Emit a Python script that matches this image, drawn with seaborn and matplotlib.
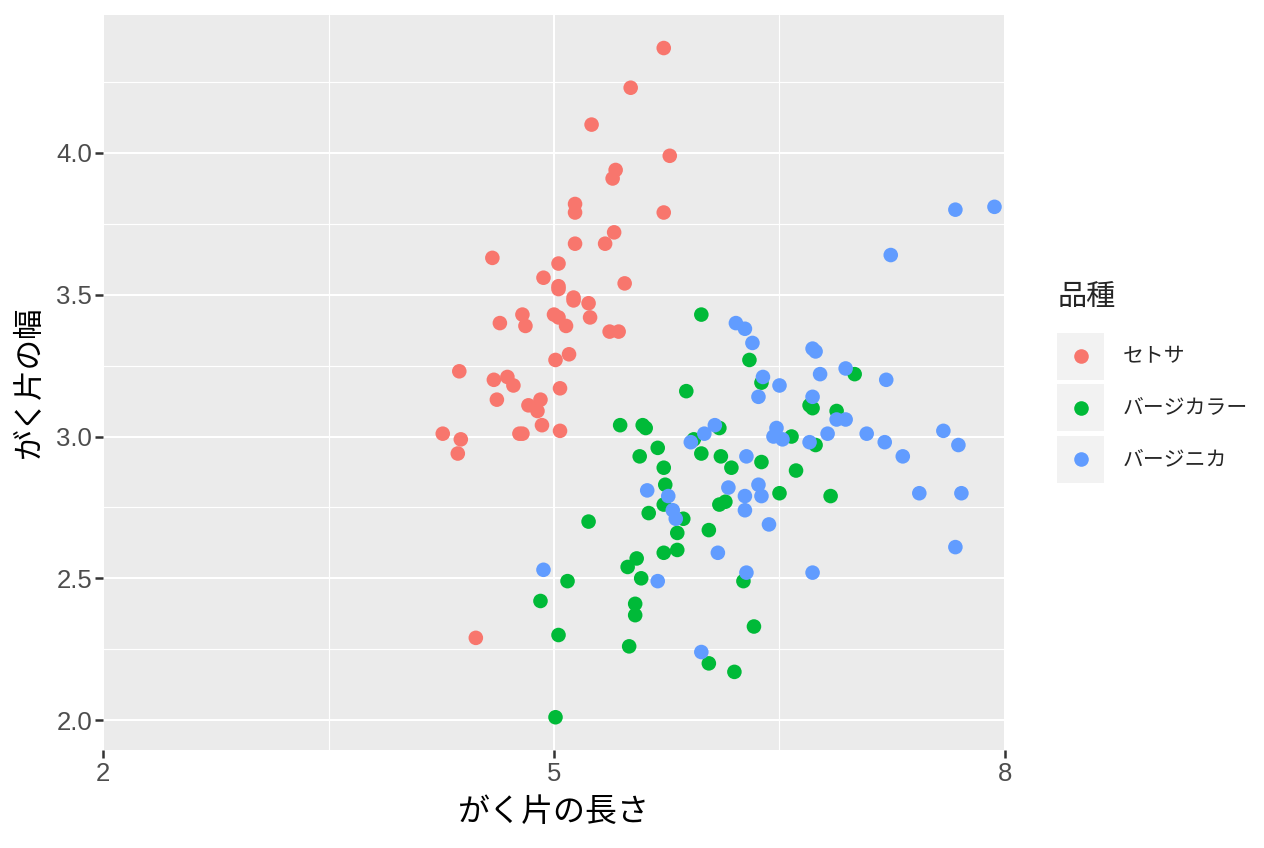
import matplotlib
matplotlib.use("Agg")
import matplotlib.pyplot as plt
import pandas as pd
import seaborn as sns
from matplotlib.lines import Line2D
from matplotlib.patches import Rectangle

# がく片の長さ / 幅 (per species)
setosa_len = [5.73, 5.51, 5.25, 5.77, 5.41, 5.39, 5.14, 5.14, 5.73, 5.40,
              5.14, 5.34, 4.59, 5.03, 4.93, 5.47, 5.03, 5.03, 5.13, 5.13,
              5.23, 4.79, 5.00, 5.03, 4.64, 4.81, 5.08, 5.24, 5.37, 5.43,
              5.10, 5.01, 4.37, 4.69, 4.60, 4.73, 5.04, 4.62, 4.91, 4.83,
              4.89, 4.92, 5.04, 4.77, 4.79, 4.26, 4.38, 4.36, 4.48]
setosa_wid = [4.37, 4.23, 4.10, 3.99, 3.94, 3.91, 3.82, 3.79, 3.79, 3.72,
              3.68, 3.68, 3.63, 3.61, 3.56, 3.54, 3.53, 3.52, 3.49, 3.48,
              3.47, 3.43, 3.43, 3.42, 3.40, 3.39, 3.39, 3.42, 3.37, 3.37,
              3.29, 3.27, 3.23, 3.21, 3.20, 3.18, 3.17, 3.13, 3.13, 3.11,
              3.09, 3.04, 3.02, 3.01, 3.01, 3.01, 2.99, 2.94, 2.29]

versicolor_len = [5.98, 6.30, 6.38, 5.88, 6.70, 6.72, 6.88, 7.00, 5.44, 5.59,
                  5.61, 6.10, 5.93, 6.58, 6.74, 5.69, 5.57, 5.98, 6.11, 6.18,
                  6.38, 5.73, 6.61, 5.74, 6.50, 6.84, 5.73, 6.10, 6.14, 5.63,
                  5.86, 5.23, 5.82, 6.03, 5.55, 5.49, 5.73, 5.82, 5.58, 5.09,
                  6.26, 4.91, 5.54, 5.54, 6.33, 5.03, 5.50, 6.03, 6.20, 5.01]
versicolor_wid = [3.43, 3.27, 3.19, 3.16, 3.11, 3.10, 3.09, 3.22, 3.04, 3.04,
                  3.03, 3.03, 2.99, 3.00, 2.97, 2.96, 2.93, 2.94, 2.93, 2.89,
                  2.91, 2.89, 2.88, 2.83, 2.80, 2.79, 2.76, 2.76, 2.77, 2.73,
                  2.71, 2.70, 2.66, 2.67, 2.57, 2.54, 2.59, 2.60, 2.50, 2.49,
                  2.49, 2.42, 2.41, 2.37, 2.33, 2.30, 2.26, 2.20, 2.17, 2.01]

virginica_len = [7.67, 7.93, 7.24, 6.72, 6.74, 6.77, 6.94, 7.21, 6.50, 6.72,
                 6.88, 6.94, 6.82, 7.08, 7.59, 7.20, 7.69, 7.32, 6.70, 6.48,
                 6.46, 6.52, 7.43, 7.71, 6.43, 7.67, 6.72, 6.21, 6.27, 6.32,
                 6.39, 6.36, 6.07, 6.00, 5.91, 6.28, 6.16, 6.36, 6.38, 6.27,
                 5.62, 5.76, 5.79, 5.81, 6.27, 6.09, 6.28, 4.93, 5.69, 5.98]
virginica_wid = [3.80, 3.81, 3.64, 3.31, 3.30, 3.22, 3.24, 3.20, 3.18, 3.14,
                 3.06, 3.06, 3.01, 3.01, 3.02, 2.98, 2.97, 2.93, 2.98, 3.03,
                 3.00, 2.99, 2.80, 2.80, 2.69, 2.61, 2.52, 3.40, 3.38, 3.33,
                 3.21, 3.14, 3.04, 3.01, 2.98, 2.93, 2.82, 2.83, 2.79, 2.79,
                 2.81, 2.79, 2.74, 2.71, 2.74, 2.59, 2.52, 2.53, 2.49, 2.24]

species = ["セトサ", "バージカラー", "バージニカ"]
colors = ["#F8766D", "#00BA38", "#619CFF"]

df = pd.DataFrame({
    "length": setosa_len + versicolor_len + virginica_len,
    "width": setosa_wid + versicolor_wid + virginica_wid,
    "species": [species[0]] * len(setosa_len)
               + [species[1]] * len(versicolor_len)
               + [species[2]] * len(virginica_len),
})

sns.set_theme(style="darkgrid")
plt.rcParams["font.family"] = ["Noto Sans CJK JP", "DejaVu Sans"]

fig = plt.figure(figsize=(12.64, 8.48), dpi=100)
fig.patch.set_facecolor("white")
ax = fig.add_axes([103 / 1264, 1 - 750 / 848, 902 / 1264, 735 / 848])
ax.set_facecolor("#EBEBEB")

sns.scatterplot(data=df, x="length", y="width", hue="species", hue_order=species,
                palette=colors, s=110, linewidth=0, alpha=1, ax=ax, legend=False,
                zorder=3)

ax.set_xlim(2, 8)
ax.set_ylim(1.8945, 4.4865)
ax.set_xticks([2, 5, 8])
ax.set_xticks([3.5, 6.5], minor=True)
ax.set_yticks([2.0, 2.5, 3.0, 3.5, 4.0])
ax.set_yticks([2.25, 2.75, 3.25, 3.75, 4.25], minor=True)
ax.set_yticklabels(["2.0", "2.5", "3.0", "3.5", "4.0"])
ax.grid(which="major", color="white", linewidth=1.5)
ax.grid(which="minor", color="white", linewidth=0.8)
ax.set_axisbelow(True)
for sp in ax.spines.values():
    sp.set_visible(False)

ax.tick_params(which="major", length=5.8, width=1.8, color="#333333",
               labelcolor="#4D4D4D", labelsize=18.5, bottom=True, left=True)
ax.tick_params(axis="y", which="major", pad=2)
ax.tick_params(axis="x", which="major", pad=2.5)
ax.tick_params(which="minor", length=0)
for lab in ax.get_xticklabels() + ax.get_yticklabels():
    lab.set_family(["Liberation Sans", "DejaVu Sans"])

ax.set_xlabel("がく片の長さ", fontsize=23, color="black")
ax.set_ylabel("がく片の幅", fontsize=22, color="black")
ax.xaxis.set_label_coords(0.5, (750 - 796) / 735)
ax.yaxis.set_label_coords((45 - 103) / 902, 0.5)

# legend drawn in figure pixels
W, H = 1264, 848
fig.text(1058 / W, 1 - 298 / H, "品種", fontsize=21, va="center", ha="left")
key_tops = [333, 384, 436]
for name, col, top in zip(species, colors, key_tops):
    fig.patches.append(Rectangle((1057 / W, 1 - (top + 47) / H), 47 / W, 47 / H,
                                 transform=fig.transFigure, facecolor="#F2F2F2",
                                 edgecolor="none"))
    cy = 1 - (top + 23.5) / H
    fig.add_artist(Line2D([1080.5 / W], [cy], marker="o", markersize=10.5,
                          markerfacecolor=col, markeredgewidth=0,
                          transform=fig.transFigure))
    fig.text(1123 / W, cy, name, fontsize=15, va="center", ha="left")

fig.savefig("out.png", dpi=100, facecolor="white")
